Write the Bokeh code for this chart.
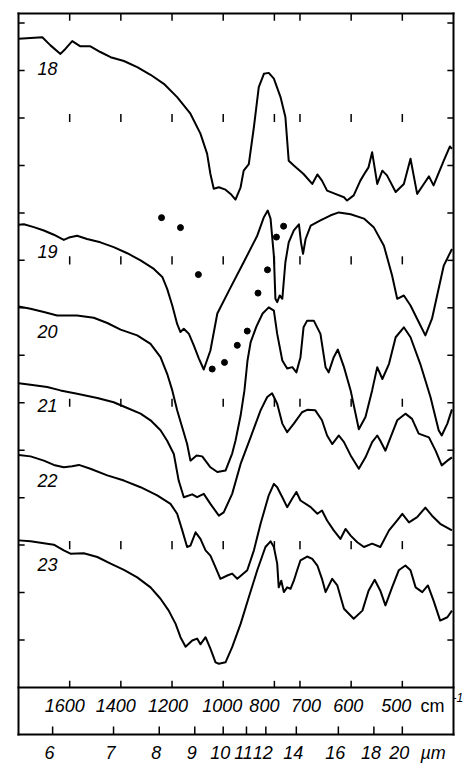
import numpy as np
from bokeh.plotting import figure
from bokeh.models import Range1d, ColumnDataSource
from bokeh.core.properties import value
from bokeh.embed import file_html
from bokeh.resources import INLINE

# ---------------- data (wavenumber in cm-1, ordinate in chart units incl. offsets)
wn18 = [1799,1707,1675,1636,1616,1590,1558,1519,1480,1440,1388,1336,1284,1232,1180,1128,1089,1063,1050,1037,1017,991,971,952,932,920,900,880,861,841,822,802,776,757,744,724,693,676,666,657,647,631,614,608,595,582,572,566,559,549,539,530,513,497,484,471,458,448,439,419,407,403]
y18 = [13.67,13.70,13.53,13.35,13.46,13.62,13.51,13.51,13.39,13.28,13.20,13.07,12.91,12.72,12.44,12.09,11.67,11.25,10.82,10.51,10.54,10.49,10.40,10.28,10.54,10.89,11.03,11.81,12.65,12.93,12.95,12.83,12.44,12.02,11.10,11.00,10.82,10.61,10.81,10.68,10.47,10.40,10.33,10.26,10.37,10.68,10.86,10.96,11.28,10.61,10.89,10.79,10.44,10.61,11.14,10.40,10.61,10.77,10.58,11.10,11.40,11.35]

wn19 = [1799,1779,1740,1701,1662,1623,1603,1571,1532,1480,1428,1375,1323,1271,1238,1219,1199,1180,1167,1154,1134,1115,1095,1076,1050,1023,971,920,867,841,826,815,802,796,789,779,769,757,744,724,704,698,694,689,679,660,640,624,601,575,556,536,520,510,497,484,468,455,442,432,419,403]
y19 = [9.75,9.76,9.70,9.63,9.54,9.43,9.48,9.52,9.45,9.38,9.28,9.15,9.00,8.82,8.65,8.40,8.05,7.66,7.49,7.56,7.45,7.21,6.93,6.70,7.10,7.88,8.43,8.96,9.52,9.91,10.05,9.88,9.10,8.19,8.12,8.26,8.19,8.96,9.38,9.63,9.76,9.38,9.14,9.45,9.73,9.84,9.95,10.01,9.97,9.88,9.70,9.31,8.68,8.19,8.26,8.05,7.70,7.42,7.77,8.26,8.89,9.24]

wn20 = [1799,1753,1701,1649,1571,1506,1453,1401,1336,1284,1245,1219,1199,1180,1160,1141,1128,1104,1082,1050,1023,991,965,952,932,917,905,893,870,846,822,802,789,769,750,730,714,699,693,686,673,660,650,644,634,626,614,601,585,572,559,549,539,526,513,497,484,465,445,429,423,412,403]
y20 = [8.03,7.98,7.91,7.84,7.84,7.79,7.68,7.54,7.42,7.24,6.96,6.61,6.26,5.84,5.48,5.13,4.78,4.89,4.87,4.64,4.54,4.57,4.93,5.20,5.73,6.26,6.89,7.27,7.61,7.88,8.01,7.94,7.45,6.89,6.72,6.75,6.64,6.96,7.59,7.73,7.73,7.45,6.75,6.64,6.96,7.12,6.75,6.26,5.44,5.70,6.26,6.75,6.50,6.82,7.38,7.59,7.38,6.82,6.12,5.42,5.31,5.56,5.86]

wn21 = [1799,1753,1688,1636,1571,1492,1428,1375,1323,1284,1245,1219,1193,1174,1154,1121,1102,1076,1050,1017,998,965,932,893,854,828,809,789,769,750,724,696,686,670,657,647,637,624,614,601,585,572,559,549,543,533,523,510,494,481,468,448,435,423,412,403]
y21 = [6.41,6.38,6.33,6.26,6.19,6.10,6.01,5.89,5.77,5.63,5.42,5.20,4.92,4.36,4.01,4.07,4.01,4.08,3.87,3.62,3.69,4.08,4.71,5.27,5.84,6.12,6.20,5.98,5.56,5.38,5.56,5.80,5.85,5.84,5.63,5.31,5.13,5.31,5.17,4.89,4.61,4.85,5.17,5.31,5.20,4.99,5.27,5.63,5.77,5.66,5.35,5.27,4.99,4.68,4.78,4.85]

wn22 = [1799,1753,1701,1662,1623,1590,1564,1519,1453,1388,1323,1258,1206,1180,1160,1141,1128,1108,1089,1069,1050,1030,1011,984,965,945,906,880,854,822,802,789,769,750,730,714,699,679,666,657,647,634,621,611,601,588,575,559,543,526,510,500,487,471,455,442,426,403]
y22 = [4.90,4.87,4.78,4.69,4.64,4.66,4.69,4.61,4.47,4.36,4.22,4.05,3.87,3.66,3.31,2.96,2.99,3.27,3.13,2.89,2.78,2.53,2.29,2.36,2.40,2.29,2.47,2.89,3.45,4.05,4.29,4.22,4.01,3.80,3.98,4.12,3.94,3.80,3.66,3.73,3.52,3.31,3.13,3.34,3.20,3.06,2.96,3.03,2.96,3.31,3.52,3.66,3.48,3.59,3.79,3.62,3.45,3.31]

wn23 = [1799,1753,1701,1662,1623,1597,1545,1492,1440,1388,1336,1284,1245,1213,1186,1167,1147,1121,1102,1089,1069,1050,1030,1017,991,965,932,900,867,835,815,802,789,783,773,763,750,737,724,711,699,686,676,666,657,650,637,627,614,595,578,566,554,543,533,520,507,494,484,474,461,450,439,426,412,403]
y23 = [3.10,3.08,3.04,3.01,2.89,2.82,2.83,2.75,2.61,2.48,2.32,2.11,1.87,1.62,1.34,1.06,0.86,0.99,1.03,0.91,1.06,0.82,0.53,0.50,0.53,0.85,1.34,1.90,2.47,2.96,3.08,2.96,2.61,2.11,2.25,2.01,2.11,2.08,2.25,2.47,2.68,2.76,2.71,2.57,2.29,2.01,2.29,2.15,1.66,1.45,1.62,2.04,2.27,2.04,1.73,2.11,2.47,2.57,2.47,2.11,2.01,2.15,1.83,1.41,1.48,1.62]

dot_wn = [1241,1167,1097,1043,995,945,906,864,827,792,764]
dot_y = [9.90,9.69,8.70,6.71,6.85,7.21,7.51,8.31,8.80,9.49,9.72]

curve_names = ["18", "19", "20", "21", "22", "23"]
curve_label_y = [13.04, 9.19, 7.50, 5.94, 4.36, 2.59]
curve_label_wn = 1726

cm_ticks = [1600, 1400, 1200, 1000, 800, 700, 600, 500]
cm_label_dx = [-5, -5, -4, -1, -10, 6, -3, -6]
um_ticks = [6, 7, 8, 9, 10, 11, 12, 14, 16, 18, 20]
row_levels = [3, 6, 9, 12]
side_ticks = list(range(1, 15))

# ---------------- scale: grating change at 700 cm-1 (double expansion below)
def to_u(wn):
    wn = np.asarray(wn, dtype=float)
    return np.where(wn >= 700, 1800 - wn, 1100 + 2 * (700 - wn))

U_MAX = 1700.0          # 400 cm-1
Y_TOP, Y_MID, Y_BOT = 14.20, 0.0, -0.99
PX_U = U_MAX / 435.0    # u per pixel
PX_Y = 1.0 / 47.46      # y units per pixel

p = figure(width=475, height=768,
           x_range=Range1d(-18 * PX_U, U_MAX + 22 * PX_U),
           y_range=Range1d(Y_MID - 81 * PX_Y, Y_MID + 687 * PX_Y),
           output_backend="svg", toolbar_location=None,
           x_axis_location=None, y_axis_location=None,
           min_border=0)
p.outline_line_color = None
p.grid.visible = False
p.background_fill_color = "white"
p.border_fill_color = "white"

# box lines
p.segment(x0=[0, U_MAX, 0, 0, 0], x1=[0, U_MAX, U_MAX, U_MAX, U_MAX],
          y0=[Y_BOT, Y_BOT, Y_TOP, Y_MID, Y_BOT], y1=[Y_TOP, Y_TOP, Y_TOP, Y_MID, Y_BOT],
          line_color="black", line_width=2, line_cap="square")

# tick marks
cm_u = to_u(cm_ticks)
um_u = to_u(10000.0 / np.asarray(um_ticks, dtype=float))
x0s, x1s, y0s, y1s = [], [], [], []
for u in cm_u:
    x0s += [u, u]; x1s += [u, u]
    y0s += [Y_TOP, Y_MID]; y1s += [Y_TOP - 0.15, Y_MID + 0.14]
    for r in row_levels:
        x0s.append(u); x1s.append(u); y0s.append(r - 0.085); y1s.append(r + 0.085)
for u in um_u:
    x0s.append(u); x1s.append(u); y0s.append(Y_BOT); y1s.append(Y_BOT + 0.17)
for yv in side_ticks:
    x0s += [0, U_MAX]; x1s += [24, U_MAX - 24]; y0s += [yv, yv]; y1s += [yv, yv]
p.segment(x0=x0s, y0=y0s, x1=x1s, y1=y1s, line_color="black", line_width=1.5)

# spectra
for wn, yy in [(wn18, y18), (wn19, y19), (wn20, y20), (wn21, y21), (wn22, y22), (wn23, y23)]:
    p.line(to_u(wn), yy, line_color="black", line_width=2, line_join="round")

p.scatter(to_u(dot_wn), dot_y, size=6, color="black")

font = value("Liberation Sans")

# curve numbers
p.text(x=[float(to_u(curve_label_wn))] * len(curve_names), y=curve_label_y, text=curve_names,
       text_font=font, text_font_style="italic", text_font_size="18px",
       text_align="left", text_baseline="middle", text_color="black")

# cm-1 scale labels
cm_src = ColumnDataSource(dict(x=cm_u, y=[Y_MID - 18 * PX_Y] * len(cm_ticks),
                               t=[str(c) for c in cm_ticks], dx=cm_label_dx))
p.text(x="x", y="y", text="t", x_offset="dx", source=cm_src,
       text_font=font, text_font_style="italic", text_font_size="18px",
       text_align="center", text_baseline="middle", text_color="black")

# micrometre scale labels
um_src = ColumnDataSource(dict(x=um_u, y=[Y_MID - 65 * PX_Y] * len(um_ticks),
                               t=[str(m) for m in um_ticks]))
p.text(x="x", y="y", text="t", x_offset=-3, source=um_src,
       text_font=font, text_font_style="italic", text_font_size="18px",
       text_align="center", text_baseline="middle", text_color="black")

# unit labels
p.text(x=[U_MAX - 33 * PX_U], y=[Y_MID - 18 * PX_Y], text=["cm"], text_font=font,
       text_font_size="18px", text_align="left", text_baseline="middle", text_color="black")
p.text(x=[U_MAX - 1 * PX_U], y=[Y_MID - 10 * PX_Y], text=["-1"], text_font=font,
       text_font_style="italic", text_font_size="12px", text_align="left",
       text_baseline="middle", text_color="black")
p.text(x=[U_MAX - 33 * PX_U], y=[Y_MID - 65 * PX_Y], text=["µm"], text_font=font,
       text_font_style="italic", text_font_size="18px", text_align="left",
       text_baseline="middle", text_color="black")

open("out.html", "w").write(file_html(p, INLINE))
